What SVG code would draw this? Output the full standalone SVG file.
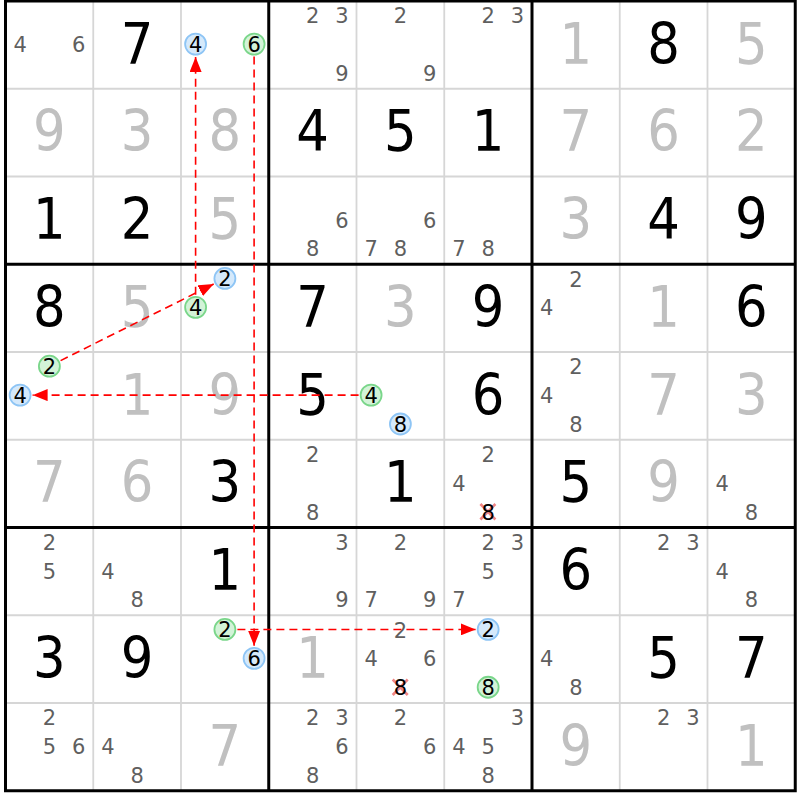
<svg xmlns="http://www.w3.org/2000/svg" width="800" height="800" viewBox="0 0 800 800">
<style>
text{font-family:"DejaVu Sans","Verdana",sans-serif;text-anchor:middle}
.g{font-size:57px;fill:#000;font-stretch:condensed}
.s{font-size:57px;fill:#c0c0c0;font-stretch:condensed}
.c{font-size:21px;fill:#5f5f5f}
.k{font-size:21px;fill:#000}
.cb{fill:#d5e9fb;stroke:#8ec5f5;stroke-width:1.8}
.cg{fill:#d3f3d8;stroke:#7ad68a;stroke-width:1.8}
.x{stroke:#f08484;stroke-width:2.6;fill:none}
.thin{stroke:#d6d6d6;stroke-width:1.8}
.thick{stroke:#000;stroke-width:3;fill:none}
.link{stroke:#ff0000;stroke-width:1.6;stroke-dasharray:8,5;fill:none;marker-end:url(#ah)}
</style>
<defs>
<marker id="ah" markerWidth="15" markerHeight="12" refX="15" refY="6" orient="auto" markerUnits="userSpaceOnUse"><path d="M0,0 L15,6 L0,12 z" fill="#ff0000"/></marker>
</defs>
<rect x="0" y="0" width="800" height="800" fill="#fff"/>
<g id="grid">
<path class="thin" d="M93.25,1V790.75M181,1V790.75M356.5,1V790.75M444.25,1V790.75M619.75,1V790.75M707.5,1V790.75M5.5,88.75H795.25M5.5,176.5H795.25M5.5,352H795.25M5.5,439.75H795.25M5.5,615.25H795.25M5.5,703H795.25"/>
<path class="thick" d="M268.75,1V790.75M532,1V790.75M5.5,264.25H795.25M5.5,527.5H795.25"/>
<rect class="thick" x="5.5" y="1" width="789.75" height="789.75"/>
</g>
<g id="r1c1"><text class="c" x="20.1" y="52.15">4</text><text class="c" x="78.6" y="52.15">6</text></g>
<g id="r1c2"><text class="g" x="137.15" y="63.5">7</text></g>
<g id="r1c3"><circle class="cb" cx="195.6" cy="44.1" r="10.5"/><text class="k" x="195.6" y="51.8">4</text><circle class="cg" cx="254.1" cy="44.1" r="10.5"/><text class="k" x="254.1" y="51.8">6</text></g>
<g id="r1c4"><text class="c" x="312.65" y="23.45">2</text><text class="c" x="341.85" y="23.45">3</text><text class="c" x="341.85" y="80.85">9</text></g>
<g id="r1c5"><text class="c" x="400.4" y="23.45">2</text><text class="c" x="429.6" y="80.85">9</text></g>
<g id="r1c6"><text class="c" x="488.15" y="23.45">2</text><text class="c" x="517.35" y="23.45">3</text></g>
<g id="r1c7"><text class="s" x="575.9" y="63.5">1</text></g>
<g id="r1c8"><text class="g" x="663.65" y="63.5">8</text></g>
<g id="r1c9"><text class="s" x="751.4" y="63.5">5</text></g>
<g id="r2c1"><text class="s" x="49.4" y="151.25">9</text></g>
<g id="r2c2"><text class="s" x="137.15" y="151.25">3</text></g>
<g id="r2c3"><text class="s" x="224.9" y="151.25">8</text></g>
<g id="r2c4"><text class="g" x="312.65" y="151.25">4</text></g>
<g id="r2c5"><text class="g" x="400.4" y="151.25">5</text></g>
<g id="r2c6"><text class="g" x="488.15" y="151.25">1</text></g>
<g id="r2c7"><text class="s" x="575.9" y="151.25">7</text></g>
<g id="r2c8"><text class="s" x="663.65" y="151.25">6</text></g>
<g id="r2c9"><text class="s" x="751.4" y="151.25">2</text></g>
<g id="r3c1"><text class="g" x="49.4" y="239">1</text></g>
<g id="r3c2"><text class="g" x="137.15" y="239">2</text></g>
<g id="r3c3"><text class="s" x="224.9" y="239">5</text></g>
<g id="r3c4"><text class="c" x="341.85" y="227.65">6</text><text class="c" x="312.65" y="256.35">8</text></g>
<g id="r3c5"><text class="c" x="429.6" y="227.65">6</text><text class="c" x="371.1" y="256.35">7</text><text class="c" x="400.4" y="256.35">8</text></g>
<g id="r3c6"><text class="c" x="458.85" y="256.35">7</text><text class="c" x="488.15" y="256.35">8</text></g>
<g id="r3c7"><text class="s" x="575.9" y="239">3</text></g>
<g id="r3c8"><text class="g" x="663.65" y="239">4</text></g>
<g id="r3c9"><text class="g" x="751.4" y="239">9</text></g>
<g id="r4c1"><text class="g" x="49.4" y="326.75">8</text></g>
<g id="r4c2"><text class="s" x="137.15" y="326.75">5</text></g>
<g id="r4c3"><circle class="cb" cx="224.9" cy="278.45" r="10.5"/><text class="k" x="224.9" y="286.15">2</text><circle class="cg" cx="195.6" cy="307.35" r="10.5"/><text class="k" x="195.6" y="315.05">4</text></g>
<g id="r4c4"><text class="g" x="312.65" y="326.75">7</text></g>
<g id="r4c5"><text class="s" x="400.4" y="326.75">3</text></g>
<g id="r4c6"><text class="g" x="488.15" y="326.75">9</text></g>
<g id="r4c7"><text class="c" x="575.9" y="286.7">2</text><text class="c" x="546.6" y="315.4">4</text></g>
<g id="r4c8"><text class="s" x="663.65" y="326.75">1</text></g>
<g id="r4c9"><text class="g" x="751.4" y="326.75">6</text></g>
<g id="r5c1"><circle class="cg" cx="49.4" cy="366.2" r="10.5"/><text class="k" x="49.4" y="373.9">2</text><circle class="cb" cx="20.1" cy="395.1" r="10.5"/><text class="k" x="20.1" y="402.8">4</text></g>
<g id="r5c2"><text class="s" x="137.15" y="414.5">1</text></g>
<g id="r5c3"><text class="s" x="224.9" y="414.5">9</text></g>
<g id="r5c4"><text class="g" x="312.65" y="414.5">5</text></g>
<g id="r5c5"><circle class="cg" cx="371.1" cy="395.1" r="10.5"/><text class="k" x="371.1" y="402.8">4</text><circle class="cb" cx="400.4" cy="424" r="10.5"/><text class="k" x="400.4" y="431.7">8</text></g>
<g id="r5c6"><text class="g" x="488.15" y="414.5">6</text></g>
<g id="r5c7"><text class="c" x="575.9" y="374.45">2</text><text class="c" x="546.6" y="403.15">4</text><text class="c" x="575.9" y="431.85">8</text></g>
<g id="r5c8"><text class="s" x="663.65" y="414.5">7</text></g>
<g id="r5c9"><text class="s" x="751.4" y="414.5">3</text></g>
<g id="r6c1"><text class="s" x="49.4" y="502.25">7</text></g>
<g id="r6c2"><text class="s" x="137.15" y="502.25">6</text></g>
<g id="r6c3"><text class="g" x="224.9" y="502.25">3</text></g>
<g id="r6c4"><text class="c" x="312.65" y="462.2">2</text><text class="c" x="312.65" y="519.6">8</text></g>
<g id="r6c5"><text class="g" x="400.4" y="502.25">1</text></g>
<g id="r6c6"><text class="c" x="488.15" y="462.2">2</text><text class="c" x="458.85" y="490.9">4</text><path class="x" d="M480.4,504L495.4,519.5M495.4,504L480.4,519.5"/><text class="k" x="488.15" y="519.6">8</text></g>
<g id="r6c7"><text class="g" x="575.9" y="502.25">5</text></g>
<g id="r6c8"><text class="s" x="663.65" y="502.25">9</text></g>
<g id="r6c9"><text class="c" x="722.1" y="490.9">4</text><text class="c" x="751.4" y="519.6">8</text></g>
<g id="r7c1"><text class="c" x="49.4" y="549.95">2</text><text class="c" x="49.4" y="578.65">5</text></g>
<g id="r7c2"><text class="c" x="107.85" y="578.65">4</text><text class="c" x="137.15" y="607.35">8</text></g>
<g id="r7c3"><text class="g" x="224.9" y="590">1</text></g>
<g id="r7c4"><text class="c" x="341.85" y="549.95">3</text><text class="c" x="341.85" y="607.35">9</text></g>
<g id="r7c5"><text class="c" x="400.4" y="549.95">2</text><text class="c" x="371.1" y="607.35">7</text><text class="c" x="429.6" y="607.35">9</text></g>
<g id="r7c6"><text class="c" x="488.15" y="549.95">2</text><text class="c" x="517.35" y="549.95">3</text><text class="c" x="488.15" y="578.65">5</text><text class="c" x="458.85" y="607.35">7</text></g>
<g id="r7c7"><text class="g" x="575.9" y="590">6</text></g>
<g id="r7c8"><text class="c" x="663.65" y="549.95">2</text><text class="c" x="692.85" y="549.95">3</text></g>
<g id="r7c9"><text class="c" x="722.1" y="578.65">4</text><text class="c" x="751.4" y="607.35">8</text></g>
<g id="r8c1"><text class="g" x="49.4" y="677.75">3</text></g>
<g id="r8c2"><text class="g" x="137.15" y="677.75">9</text></g>
<g id="r8c3"><circle class="cg" cx="224.9" cy="629.45" r="10.5"/><text class="k" x="224.9" y="637.15">2</text><circle class="cb" cx="254.1" cy="658.35" r="10.5"/><text class="k" x="254.1" y="666.05">6</text></g>
<g id="r8c4"><text class="s" x="312.65" y="677.75">1</text></g>
<g id="r8c5"><text class="c" x="400.4" y="637.7">2</text><text class="c" x="371.1" y="666.4">4</text><text class="c" x="429.6" y="666.4">6</text><path class="x" d="M392.7,679.5L407.7,695M407.7,679.5L392.7,695"/><text class="k" x="400.4" y="695.1">8</text></g>
<g id="r8c6"><circle class="cb" cx="488.15" cy="629.45" r="10.5"/><text class="k" x="488.15" y="637.15">2</text><circle class="cg" cx="488.15" cy="687.25" r="10.5"/><text class="k" x="488.15" y="694.95">8</text></g>
<g id="r8c7"><text class="c" x="546.6" y="666.4">4</text><text class="c" x="575.9" y="695.1">8</text></g>
<g id="r8c8"><text class="g" x="663.65" y="677.75">5</text></g>
<g id="r8c9"><text class="g" x="751.4" y="677.75">7</text></g>
<g id="r9c1"><text class="c" x="49.4" y="725.45">2</text><text class="c" x="49.4" y="754.15">5</text><text class="c" x="78.6" y="754.15">6</text></g>
<g id="r9c2"><text class="c" x="107.85" y="754.15">4</text><text class="c" x="137.15" y="782.85">8</text></g>
<g id="r9c3"><text class="s" x="224.9" y="765.5">7</text></g>
<g id="r9c4"><text class="c" x="312.65" y="725.45">2</text><text class="c" x="341.85" y="725.45">3</text><text class="c" x="341.85" y="754.15">6</text><text class="c" x="312.65" y="782.85">8</text></g>
<g id="r9c5"><text class="c" x="400.4" y="725.45">2</text><text class="c" x="429.6" y="754.15">6</text></g>
<g id="r9c6"><text class="c" x="517.35" y="725.45">3</text><text class="c" x="458.85" y="754.15">4</text><text class="c" x="488.15" y="754.15">5</text><text class="c" x="488.15" y="782.85">8</text></g>
<g id="r9c7"><text class="s" x="575.9" y="765.5">9</text></g>
<g id="r9c8"><text class="c" x="663.65" y="725.45">2</text><text class="c" x="692.85" y="725.45">3</text></g>
<g id="r9c9"><text class="s" x="751.4" y="765.5">1</text></g>
<g id="connectors">
<line class="link" x1="195.6" y1="294.8" x2="195.6" y2="57"/>
<line class="link" x1="60.6" y1="360.6" x2="213.7" y2="284"/>
<line class="link" x1="358.6" y1="395.1" x2="32.6" y2="395.1"/>
<line class="link" x1="254.1" y1="56.6" x2="254.1" y2="645.8"/>
<line class="link" x1="237.4" y1="629.45" x2="475.6" y2="629.45"/>
</g>
</svg>
